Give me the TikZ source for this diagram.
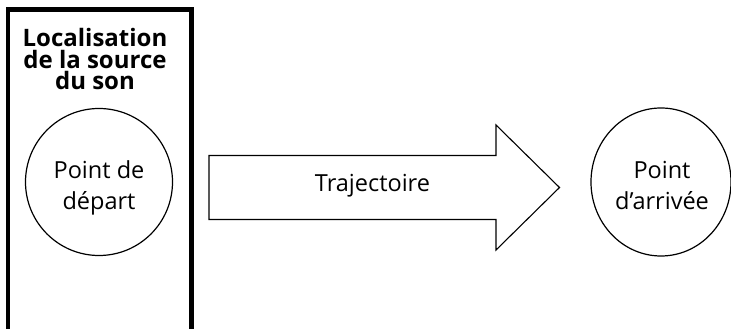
\documentclass[tikz,border=0pt]{standalone}
\usepackage{fontspec}
\setmainfont{Open Sans}
\begin{document}
\begin{tikzpicture}[x=1pt,y=1pt,
  txt/.style={font=\fontsize{23.5}{31.5}\selectfont, align=center, inner sep=0pt},
  ttl/.style={font=\fontsize{24}{21.7}\selectfont\bfseries, align=center, inner sep=0pt},
  circ/.style={draw, line width=1.2pt},
  outline/.style={draw, line width=1.1pt}]
\useasboundingbox (0,0) rectangle (731,329);
\clip (0,0) rectangle (731,329);
% frame
\draw[line width=4.2pt] (8,-20) -- (8,319.5) -- (191.5,319.5) -- (191.5,-20);
\node[ttl, anchor=base] (title) at (95,239) {Localisation\\de la source\\du son};
% start circle
\node[circ, circle, minimum size=147pt, inner sep=0pt] (start) at (99,147) {};
\node[txt, anchor=base] (starttxt) at (99,119) {Point de\\départ};
% arrow
\draw[outline] (209,173.5) -- (496,173.5) -- (496,204) -- (559.5,141.5)
  -- (496,79) -- (496,109.5) -- (209,109.5) -- cycle;
\node[txt, anchor=base] (traj) at (372.5,137.3) {Trajectoire};
% end circle
\draw[circ] (661,147) ellipse [x radius=70, y radius=74];
\node[txt, anchor=base] (endtxt) at (662,119) {Point\\d’arrivée};
\end{tikzpicture}
\end{document}
